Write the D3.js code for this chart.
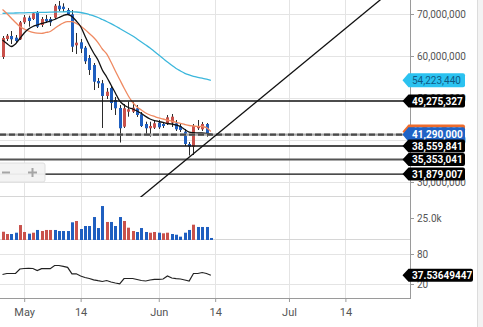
<!DOCTYPE html>
<html><head><meta charset="utf-8">
<script src="https://cdn.jsdelivr.net/npm/d3@7"></script>
<style>html,body{margin:0;padding:0;background:#fff;overflow:hidden}svg{display:block;font-family:Roboto,"Open Sans",sans-serif}</style>
</head><body><svg id="c" width="483" height="327"></svg>
<script>
// ---------- DATA ----------
const dates = ["2021-04-26","2021-04-27","2021-04-28","2021-04-29","2021-04-30",
"2021-05-01","2021-05-02","2021-05-03","2021-05-04","2021-05-05","2021-05-06","2021-05-07","2021-05-08","2021-05-09","2021-05-10",
"2021-05-11","2021-05-12","2021-05-13","2021-05-14","2021-05-15","2021-05-16","2021-05-17","2021-05-18","2021-05-19","2021-05-20",
"2021-05-21","2021-05-22","2021-05-23","2021-05-24","2021-05-25","2021-05-26","2021-05-27","2021-05-28","2021-05-29","2021-05-30","2021-05-31",
"2021-06-01","2021-06-02","2021-06-03","2021-06-04","2021-06-05","2021-06-06","2021-06-07","2021-06-08","2021-06-09","2021-06-10",
"2021-06-11","2021-06-12","2021-06-13"];
// prices in millions of KRW
const open  = [59.76,64.05,64.76,64.36,63.98,68.02,69.12,68.81,70.40,67.38,68.81,68.81,69.12,71.98,71.74,70.95,69.93,62.55,63.26,61.98,59.52,57.86,54.05,53.50,50.48,52.38,49.52,47.62,43.17,46.74,46.74,47.55,46.12,43.81,42.79,42.93,44.12,43.81,43.81,44.12,43.98,43.33,41.98,39.05,38.40,42.79,42.55,43.81,41.45];
const high  = [64.76,65.24,65.95,65.00,68.33,69.76,69.60,70.48,70.71,69.29,69.76,69.29,72.38,73.10,72.55,71.43,70.95,65.48,64.05,62.38,60.24,58.33,54.76,54.29,52.38,52.86,50.24,48.33,48.57,49.12,49.12,48.33,46.67,44.36,44.36,44.76,44.76,44.29,45.95,46.19,44.76,43.81,42.62,39.52,43.81,44.76,44.29,44.05,41.55];
const low   = [59.29,63.57,62.86,63.10,63.81,67.62,66.98,68.57,66.67,66.90,67.86,67.14,68.81,70.71,70.48,69.76,60.95,60.48,60.71,58.10,55.48,51.90,52.38,42.86,49.76,47.14,45.95,39.40,42.86,45.55,46.43,45.48,43.10,41.19,40.79,42.62,42.62,42.86,43.57,43.10,42.14,41.90,38.57,36.31,36.43,42.38,42.14,40.79,41.20];
const close = [64.29,64.83,63.98,63.57,68.02,69.21,68.33,70.17,66.98,68.81,68.26,68.02,71.98,71.12,71.19,70.00,62.21,63.17,61.74,58.74,56.67,53.88,53.50,50.48,51.50,48.81,47.55,42.79,47.55,47.31,47.69,45.95,43.33,42.79,43.33,43.98,43.02,43.33,45.40,45.55,42.55,42.38,39.05,38.40,43.33,43.33,43.81,41.29,41.29];
const maShort = [63.81,62.98,62.26,62.86,64.17,65.48,66.43,67.02,67.38,67.74,68.02,68.33,68.69,69.17,69.64,69.88,69.40,68.33,67.02,64.76,62.62,60.71,59.05,56.67,55.00,53.10,51.19,49.29,48.33,47.74,47.38,46.90,46.31,45.60,45.00,44.64,44.40,44.17,43.93,43.81,43.57,43.21,42.50,41.90,41.74,41.67,41.67,41.60,41.43];
const maMid = [71.07,70.12,69.05,67.98,67.02,66.43,65.95,65.60,65.43,65.40,65.60,65.83,66.55,67.26,67.86,68.17,68.17,67.74,67.14,66.31,65.36,64.40,63.21,61.67,60.48,58.57,56.43,54.40,52.38,50.48,48.93,47.86,47.14,46.43,45.95,45.60,45.24,45.00,44.71,44.48,44.21,43.98,43.69,43.45,43.33,43.26,43.21,42.95,42.02];
const maLong = [70.17,70.19,70.21,70.24,70.26,70.29,70.31,70.33,70.36,70.38,70.40,70.43,70.48,70.50,70.52,70.55,70.52,70.48,70.36,70.17,69.88,69.57,69.17,68.69,68.21,67.69,67.14,66.55,65.95,65.36,64.76,64.05,63.33,62.62,61.90,61.07,60.24,59.40,58.57,57.79,57.02,56.43,55.88,55.48,55.17,54.93,54.71,54.48,54.22344];
const volume = [9400,6800,6800,8300,17000,9100,7200,8300,11400,10200,11400,11400,11400,10200,10200,10200,20100,21600,12500,15900,15900,26100,13600,38600,20500,20500,15900,26100,21600,14000,10200,9100,13600,9100,8300,9100,8300,7600,8300,6800,6000,3800,8300,11400,17400,14800,14800,14800,2300];
const volDir = "RRBBRRBRBRRRBBBBBRBBBBBBRBBBRRRBBBRRBRRBBBBBRBBBB".split("");
const rsi = [39,41,41,41,50,51,51.4,51,47,50.6,50.6,50.6,57,57,55.4,53.4,40.4,40.4,36,33,31,28.4,26.6,25,27,24,22,20.4,31,31,31,29,27,26,28,29.4,29.4,30,36,32,30.6,30,28,26,41,41,43,41,37.53649447];
const levels = [49275327, 38559841, 35353041, 31879007];
const lastPrice = 41290000;
const trendDates = ["2021-05-22","2021-07-28"];
const trendValues = [21.43, 78.45];
const priceTicks = [30000000,40000000,50000000,60000000,70000000];
const volTicks = [25000];
const rsiTicks = [20,80];
const tickDates = ["2021-05-01","2021-05-14","2021-06-01","2021-06-14","2021-07-01","2021-07-14"];
const tickLabels = ["May","14","Jun","14","Jul","14"];

// ---------- SETUP ----------
const parse = d3.timeParse("%Y-%m-%d");
const D = dates.map(parse);
const M = 1e6;
const svg = d3.select("#c");
const W = 410, mainB = 197, volB = 240, rsiB = 298;
const UP = "#c9524c", DOWN = "#1f5fc0";

const x = d3.scaleTime().domain([parse("2021-04-26"), parse("2021-07-14")]).range([2.5, 345.4]);
const yP = d3.scaleLinear().domain([30*M, 70*M]).range([182, 14]);
const yV = d3.scaleLinear().domain([0, 25000]).range([240, 218]);
const yR = d3.scaleLinear().domain([20, 80]).range([284, 254]);
const px = d => Math.round(x(d));

const defs = svg.append("defs");
defs.append("clipPath").attr("id","cm").append("rect").attr("x",0).attr("y",0).attr("width",W).attr("height",mainB);
defs.append("clipPath").attr("id","cr").append("rect").attr("x",0).attr("y",volB).attr("width",W).attr("height",rsiB-volB);

// right margin background
svg.append("rect").attr("x",478).attr("y",0).attr("width",5).attr("height",327).attr("fill","#f3f3f3");
svg.append("line").attr("x1",477.5).attr("x2",477.5).attr("y1",0).attr("y2",327).attr("stroke","#dcdcdc");

// grid
const grid = svg.append("g").attr("stroke","#e4e4e4").attr("stroke-width",1);
priceTicks.forEach(t => grid.append("line").attr("x1",0).attr("x2",W).attr("y1",Math.round(yP(t))+0.5).attr("y2",Math.round(yP(t))+0.5));
rsiTicks.forEach(t => grid.append("line").attr("x1",0).attr("x2",W).attr("y1",Math.round(yR(t))+0.5).attr("y2",Math.round(yR(t))+0.5));
tickDates.forEach(t => grid.append("line").attr("x1",px(parse(t))+0.5).attr("x2",px(parse(t))+0.5).attr("y1",0).attr("y2",rsiB));
[mainB, volB].forEach(yy => grid.append("line").attr("x1",0).attr("x2",W).attr("y1",yy-0.5).attr("y2",yy-0.5).attr("stroke","#d6d6d6"));

// ---------- MAIN PANEL ----------
const main = svg.append("g").attr("clip-path","url(#cm)");
const candles = main.append("g");
D.forEach((d,i) => {
  const cx = px(d);
  const up = close[i] >= open[i];
  const col = up ? UP : DOWN;
  candles.append("line").attr("x1",cx+0.5).attr("x2",cx+0.5)
    .attr("y1",yP(high[i]*M)).attr("y2",yP(low[i]*M)).attr("stroke","#2b2b2b").attr("stroke-width",1);
  const y0 = yP(Math.max(open[i],close[i])*M), y1 = yP(Math.min(open[i],close[i])*M);
  candles.append("rect").attr("x",cx-1).attr("width",3).attr("y",y0).attr("height",Math.max(1,y1-y0)).attr("fill",col);
});

const lineGen = arr => d3.line().x((d,i)=>x(D[i])).y(d=>yP(d*M)).curve(d3.curveMonotoneX)(arr);
main.append("path").attr("d",lineGen(maLong)).attr("fill","none").attr("stroke","#3cb7dc").attr("stroke-width",1.3);
main.append("path").attr("d",lineGen(maMid)).attr("fill","none").attr("stroke","#ef8a62").attr("stroke-width",1.3);
main.append("path").attr("d",lineGen(maShort)).attr("fill","none").attr("stroke","#111").attr("stroke-width",1.3);

// level lines
const lv = main.append("g");
const levelStyle = {49275327:["#111",1.4], 38559841:["#111",1.4], 35353041:["#555",2], 31879007:["#111",1.4]};
levels.forEach(v => lv.append("line").attr("x1",0).attr("x2",W).attr("y1",yP(v)).attr("y2",yP(v))
   .attr("stroke",levelStyle[v][0]).attr("stroke-width",levelStyle[v][1]));
lv.append("line").attr("x1",0).attr("x2",W).attr("y1",yP(lastPrice)).attr("y2",yP(lastPrice)).attr("stroke","#aaa").attr("stroke-width",2.2);
lv.append("line").attr("x1",0).attr("x2",W).attr("y1",yP(lastPrice)).attr("y2",yP(lastPrice)).attr("stroke","#4a4a4a").attr("stroke-width",2.2).attr("stroke-dasharray","6,3");

// trend line
main.append("path").attr("d", d3.line().x((d,i)=>x(parse(trendDates[i]))).y(d=>yP(d*M))(trendValues))
  .attr("stroke","#111").attr("stroke-width",1.3).attr("fill","none");

// zoom buttons
const zb = svg.append("g");
zb.append("rect").attr("x",-3).attr("y",163).attr("width",48).attr("height",19).attr("rx",2).attr("fill","#f2f2f2").attr("fill-opacity",0.95).attr("stroke","#dedede");
zb.append("line").attr("x1",2).attr("x2",10).attr("y1",172.5).attr("y2",172.5).attr("stroke","#a5a5a5").attr("stroke-width",2);
zb.append("line").attr("x1",28).attr("x2",37).attr("y1",172.5).attr("y2",172.5).attr("stroke","#a5a5a5").attr("stroke-width",2);
zb.append("line").attr("x1",32.5).attr("x2",32.5).attr("y1",168).attr("y2",177).attr("stroke","#a5a5a5").attr("stroke-width",2);

// ---------- VOLUME ----------
const vg = svg.append("g");
volume.forEach((v,i) => {
  const cx = px(D[i]);
  vg.append("rect").attr("x",cx-1).attr("width",3).attr("y",yV(v)).attr("height",yV(0)-yV(v))
    .attr("fill", volDir[i]==="R" ? UP : DOWN);
});

// ---------- RSI ----------
svg.append("g").attr("clip-path","url(#cr)").append("path")
  .attr("d", d3.line().x((d,i)=>x(D[i])).y(d=>yR(d))(rsi))
  .attr("fill","none").attr("stroke","#222").attr("stroke-width",1.2);

// ---------- AXES ----------
svg.append("line").attr("x1",W+0.5).attr("x2",W+0.5).attr("y1",0).attr("y2",rsiB).attr("stroke","#9a9a9a");
svg.append("line").attr("x1",0).attr("x2",W+1).attr("y1",rsiB+0.5).attr("y2",rsiB+0.5).attr("stroke","#9a9a9a");

function styleAxis(g, size){
  g.select(".domain").remove();
  g.selectAll(".tick line").attr("stroke","#9a9a9a");
  g.selectAll(".tick text").attr("fill","#555").style("font-size",size+"px").style("font-family","Roboto, 'Open Sans', sans-serif");
}
svg.append("g").attr("transform",`translate(${W},0)`).call(d3.axisRight(yP).tickValues(priceTicks).tickFormat(d3.format(",")).tickSize(4).tickPadding(3)).call(styleAxis,10);
svg.append("g").attr("transform",`translate(${W},0)`).call(d3.axisRight(yV).tickValues(volTicks).tickFormat(d=>(d/1000).toFixed(1)+"k").tickSize(4).tickPadding(3)).call(styleAxis,10);
svg.append("g").attr("transform",`translate(${W},0)`).call(d3.axisRight(yR).tickValues(rsiTicks).tickSize(4).tickPadding(3)).call(styleAxis,10);
svg.append("g").attr("transform",`translate(0,${rsiB})`).call(d3.axisBottom(x).tickValues(tickDates.map(parse)).tickFormat((d,i)=>tickLabels[i]).tickSize(4).tickPadding(6)).call(styleAxis,11);

// ---------- BADGES ----------
function badge(cy, text, fill, color, right, bold, h){
  h = h || 13;
  const tip = 402.5, l = 408.5;
  const g = svg.append("g");
  g.append("path").attr("d",`M${tip},${cy} L${l},${cy-h/2} H${right-2} Q${right},${cy-h/2} ${right},${cy-h/2+2} V${cy+h/2-2} Q${right},${cy+h/2} ${right-2},${cy+h/2} H${l} Z`).attr("fill",fill);
  g.append("text").attr("x",412).attr("y",cy).attr("dy","0.35em").attr("fill",color)
    .style("font-size","10px").style("font-weight",bold?700:400).text(text);
}
const f = d3.format(",");
badge(yP(maLong[maLong.length-1]*M), f(Math.round(maLong[maLong.length-1]*M)), "#2bc2f0", "#0f5a85", 465, false, 14);
badge(yP(levels[0]), f(levels[0]), "#000", "#fff", 465, true);
badge(yP(maMid[maMid.length-1]*M), f(Math.round(maMid[maMid.length-1]*M)), "#ee6c2d", "#fff", 465, true, 14);
badge(yP(lastPrice), f(lastPrice), "#1f63c6", "#fff", 465, true, 14.5);
badge(yP(levels[1]), f(levels[1]), "#000", "#fff", 465, true);
badge(yP(levels[2]), f(levels[2]), "#000", "#fff", 465, true);
badge(yP(levels[3]), f(levels[3]), "#000", "#fff", 465, true);
badge(yR(rsi[rsi.length-1]), String(rsi[rsi.length-1]), "#000", "#fff", 473, true);
</script></body></html>
